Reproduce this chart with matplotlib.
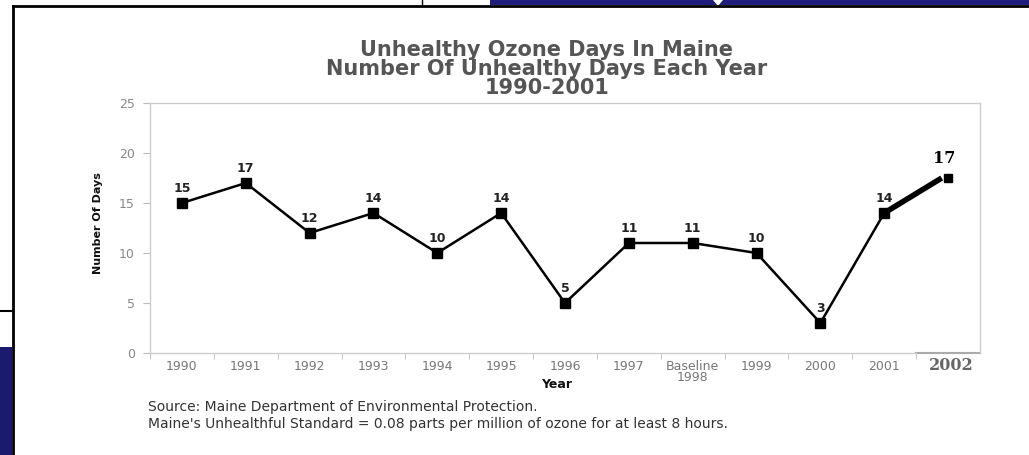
import matplotlib
matplotlib.use("Agg")
import matplotlib.pyplot as plt
from matplotlib.patches import Rectangle, Polygon
from matplotlib.lines import Line2D

years = ['1990', '1991', '1992', '1993', '1994', '1995', '1996', '1997',
         'Baseline\n1998', '1999', '2000', '2001', '']
days = [15, 17, 12, 14, 10, 14, 5, 11, 11, 10, 3, 14]
# hand drawn 2002 addition on the slide
extra_year = '2002'
extra_days = [14, 17.5]
extra_label = '17'

W, H = 1029, 455
fig = plt.figure(figsize=(W / 100, H / 100), dpi=100)
fig.patch.set_facecolor('white')


def fx(x):
    return x / W


def fy(y):
    return 1 - y / H


# slide decorations around the pasted chart
navy = '#201d7c'
fig.patches.append(Rectangle((fx(490), fy(5)), fx(W - 490), 5 / H, transform=fig.transFigure,
                             facecolor=navy, edgecolor='none', zorder=0))
fig.patches.append(Polygon([(fx(713), fy(0)), (fx(723), fy(0)), (fx(718), fy(6))],
                           transform=fig.transFigure, facecolor='white', edgecolor='none', zorder=1))
fig.patches.append(Rectangle((0, 0), fx(12), 108 / H, transform=fig.transFigure,
                             facecolor='#1c1a6e', edgecolor='none', zorder=0))
fig.lines.append(Line2D([fx(13), 1], [fy(6), fy(6)], transform=fig.transFigure, color='black', lw=2))
fig.lines.append(Line2D([fx(13), fx(13)], [0, fy(6)], transform=fig.transFigure, color='black', lw=2))
fig.lines.append(Line2D([0, fx(13)], [fy(311), fy(311)], transform=fig.transFigure, color='black', lw=1.5))
fig.lines.append(Line2D([fx(422), fx(422)], [fy(5), 1], transform=fig.transFigure, color='black', lw=1))

ax = fig.add_axes([fx(150), fy(353), fx(980 - 150), (353 - 103) / H])
x = list(range(len(days)))
ax.plot(x, days, color='black', lw=1.8, marker='s', markersize=7, zorder=3)
for xi, v in zip(x, days):
    ax.annotate(str(v), (xi, v), xytext=(0, 6), textcoords='offset points', ha='center',
                va='bottom', fontsize=9, fontweight='bold', color='#222222')

# 2002 extension
ax.plot([11, 11.9], extra_days, color='black', lw=4, solid_capstyle='butt', zorder=3)
ax.plot([12], [extra_days[1]], color='black', marker='s', markersize=5.5, lw=0, zorder=4)
ax.annotate(extra_label, (12, extra_days[1]), xytext=(-3, 8), textcoords='offset points',
            ha='center', va='bottom', fontsize=11.5, fontweight='bold', family='DejaVu Serif',
            color='black')

ax.set_xlim(-0.5, len(years) - 0.5)
ax.set_ylim(0, 25)
ax.set_yticks([0, 5, 10, 15, 20, 25])
ax.set_xticks(x + [12])
ax.set_xticklabels(years, linespacing=0.85)
ax.set_xticks([i + 0.5 for i in range(-1, 12)], minor=True)
ax.tick_params(axis='x', which='major', length=0, pad=5, labelsize=9, labelcolor='#777777')
ax.tick_params(axis='x', which='minor', length=4, color='#bbbbbb', direction='out')
ax.tick_params(axis='y', length=5, color='#bbbbbb', labelsize=9, labelcolor='#888888', pad=6)
for side in ['top', 'right', 'left', 'bottom']:
    ax.spines[side].set_color('#cccccc')
    ax.spines[side].set_linewidth(1)
ax.spines['bottom'].set_bounds(-0.5, 11.5)
ax.plot([11.5, 12.5], [0, 0], color='#aaaaaa', lw=1.5, clip_on=False, zorder=2)

ax.set_xlabel('Year', fontsize=9, fontweight='bold', color='#111111', labelpad=0)
ax.xaxis.set_label_coords(fx(557 - 150) / fx(830), -0.10)
ax.set_ylabel('Number Of Days', fontsize=8, fontweight='bold', color='#111111')
ax.yaxis.set_label_coords(-(150 - 103) / 830, 0.52)

fig.text(fx(951), fy(366), extra_year, ha='center', va='center', fontsize=11.5,
         fontweight='bold', family='DejaVu Serif', color='#666666')

title_lines = ['Unhealthy Ozone Days In Maine', 'Number Of Unhealthy Days Each Year', '1990-2001']
for line, yy in zip(title_lines, [50, 69, 88]):
    fig.text(fx(547), fy(yy), line, ha='center', va='center', fontsize=15,
             fontweight='bold', color='#555555')

fig.text(fx(148), fy(407), 'Source: Maine Department of Environmental Protection.',
         ha='left', va='center', fontsize=10, color='#333333')
fig.text(fx(148), fy(424), "Maine's Unhealthful Standard = 0.08 parts per million of ozone for at least 8 hours.",
         ha='left', va='center', fontsize=10, color='#333333')

fig.savefig('out.png', dpi=100)
